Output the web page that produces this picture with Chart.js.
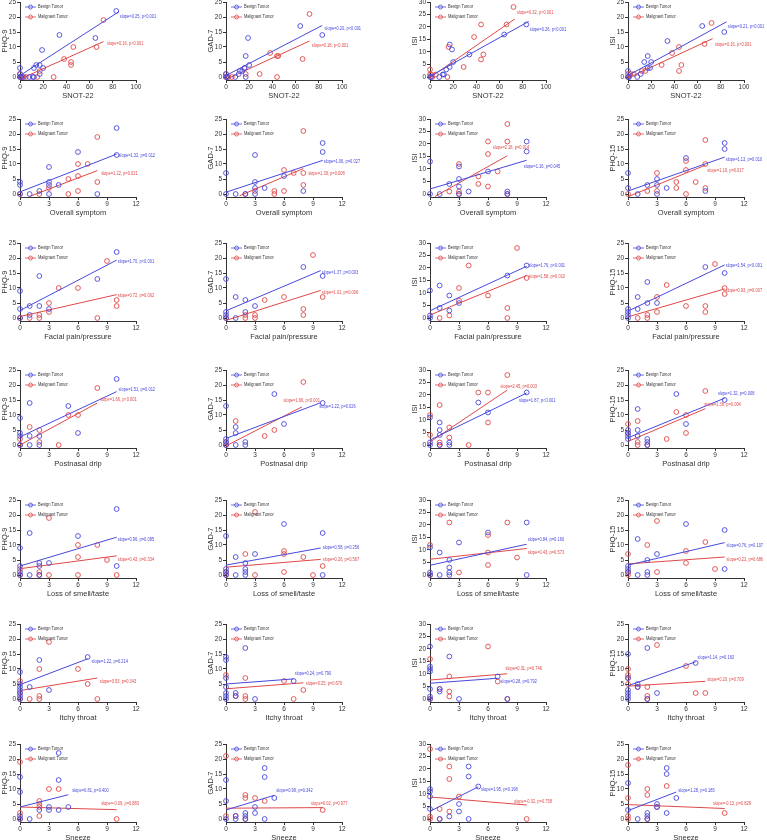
<!DOCTYPE html>
<html>
<head>
<meta charset="utf-8">
<script src="https://cdn.jsdelivr.net/npm/chart.js@4.4.1/dist/chart.umd.min.js"></script>
<style>
  html, body { margin: 0; padding: 0; background: #fff; overflow: hidden; }
  #wrap { position: relative; width: 767px; height: 840px; }
  #wrap canvas { position: absolute; }
</style>
</head>
<body>
<div id="wrap"></div>
<script>
// ---- data ----
const seriesNames = ['Benign Tumor', 'Malignant Tumor'];
const xTitles = ['SNOT-22', 'Overall symptom', 'Facial pain/pressure', 'Postnasal drip', 'Loss of smell/taste', 'Itchy throat', 'Sneeze'];
const yTitles = [
  ['PHQ-9', 'GAD-7', 'ISI', 'ISI'],
  ['PHQ-9', 'GAD-7', 'ISI', 'PHQ-15'],
  ['PHQ-9', 'GAD-7', 'ISI', 'PHQ-15'],
  ['PHQ-9', 'GAD-7', 'ISI', 'PHQ-15'],
  ['PHQ-9', 'GAD-7', 'ISI', 'PHQ-15'],
  ['PHQ-9', 'GAD-7', 'ISI', 'PHQ-15'],
  ['PHQ-9', 'GAD-7', 'ISI', 'PHQ-15']
];
const yTicks25 = [0, 5, 10, 15, 20, 25];
const yTicks30 = [0, 5, 10, 15, 20, 25, 30];
const xTicksSnot = [0, 20, 40, 60, 80, 100];
const xTicksSymptom = [0, 3, 6, 9, 12];

// points per row: one list per column (PHQ-9, GAD-7, ISI, PHQ-15)
const snotB = [
  [[83,22],[65,13],[34,14],[19,9],[20,3],[14,4],[17,4],[17,1],[12,3],[0,3],[0,0],[1,0],[3,0],[8,0],[11,0],[12,0],[0,1]],
  [[83,14],[64,17],[19,13],[17,7],[20,4],[16,3],[14,2],[12,2],[11,1],[17,0],[8,0],[0,0],[0,1],[1,0]],
  [[83,21],[64,17],[17,13],[19,11],[20,6],[34,9],[17,4],[14,3],[11,1],[12,1],[8,0],[0,0],[1,0]],
  [[83,15],[64,17],[34,12],[17,7],[14,5],[20,5],[19,3],[17,3],[11,1],[8,0],[0,2],[0,0],[1,0]]
];
const snotM = [
  [[72,19],[66,10],[46,10],[38,6],[44,5],[44,4],[17,2],[15,0],[29,0],[0,1],[2,0],[5,0],[1,0],[0,0]],
  [[72,21],[66,6],[38,8],[44,7],[45,7],[44,0],[29,1],[17,1],[16,3],[0,1],[0,0],[2,0],[5,0]],
  [[72,28],[66,21],[44,21],[38,16],[16,12],[46,9],[44,7],[29,4],[15,0],[0,3],[0,1],[1,1],[5,1],[2,0]],
  [[72,18],[66,11],[44,10],[38,8],[46,4],[44,2],[29,4],[15,2],[12,2],[0,1],[5,1],[2,1],[0,0]]
];
const overallB = [
  [[10,22],[10,13],[6,14],[3,9],[3,4],[3,3],[4,3],[0,4],[0,3],[2,1],[1,0],[3,0],[8,0],[0,0]],
  [[10,17],[10,14],[3,13],[0,7],[3,4],[3,2],[4,2],[6,6],[8,1],[0,0],[1,0],[2,0],[3,0]],
  [[10,21],[10,17],[0,13],[3,11],[3,6],[3,3],[2,4],[6,9],[4,1],[8,1],[8,0],[1,0],[3,0],[0,0]],
  [[10,17],[10,15],[6,12],[0,7],[3,5],[3,3],[2,3],[4,2],[0,2],[8,1],[1,0],[3,0]]
];
const overallM = [
  [[8,19],[6,10],[7,10],[6,6],[5,5],[8,4],[3,2],[2,0],[5,0],[6,1],[0,0]],
  [[8,21],[6,8],[7,7],[8,7],[8,3],[6,1],[5,1],[5,0],[3,1],[2,0]],
  [[8,28],[6,21],[8,21],[6,16],[3,12],[7,9],[5,7],[5,4],[6,3],[3,1],[2,1],[8,0],[3,0]],
  [[8,18],[6,11],[8,10],[6,8],[3,7],[5,4],[7,4],[5,2],[8,2],[2,1],[3,1],[6,0],[0,0]]
];
const facialB = [
  [[10,22],[2,14],[8,13],[0,9],[0,3],[1,4],[2,4],[3,3],[1,1],[0,0]],
  [[10,14],[8,17],[0,13],[1,7],[2,6],[3,4],[2,2],[0,2],[0,1],[0,0],[1,0]],
  [[10,21],[8,17],[1,13],[0,11],[2,9],[3,6],[1,4],[2,3],[0,1],[0,0]],
  [[10,15],[8,17],[2,12],[1,7],[3,5],[2,5],[1,3],[0,3],[0,2],[0,1],[0,0]]
];
const facialM = [
  [[9,19],[4,10],[6,10],[10,6],[10,4],[3,5],[3,2],[2,1],[2,0],[1,0],[8,0],[0,0]],
  [[9,21],[10,7],[6,7],[4,6],[8,3],[8,1],[3,1],[3,0],[2,1],[2,0],[0,0]],
  [[9,28],[4,21],[3,12],[10,16],[6,9],[3,7],[8,4],[2,1],[1,0],[8,0]],
  [[9,18],[10,10],[10,8],[4,11],[3,7],[6,4],[8,4],[8,2],[3,2],[2,1],[2,0],[1,0]]
];
const postnasalB = [
  [[10,22],[1,14],[5,13],[0,9],[0,4],[0,3],[1,3],[2,3],[6,4],[1,0],[2,0],[0,0]],
  [[10,14],[5,17],[0,13],[1,6],[1,4],[6,7],[2,1],[2,0],[1,0],[0,2],[0,1],[0,0]],
  [[10,21],[5,17],[6,13],[1,9],[0,11],[1,6],[1,4],[2,1],[2,0],[0,1],[0,0],[1,0]],
  [[10,15],[5,17],[1,12],[6,7],[1,5],[1,3],[0,5],[0,4],[0,3],[0,2],[2,2],[2,1],[2,0]]
];
const postnasalM = [
  [[8,19],[5,10],[6,10],[1,6],[2,5],[0,2],[2,1],[4,0],[0,0]],
  [[8,21],[1,8],[5,5],[4,3],[0,1],[0,0]],
  [[8,28],[5,21],[6,21],[1,16],[0,12],[6,9],[2,7],[2,3],[0,4],[1,1],[1,0],[4,0]],
  [[8,18],[5,11],[6,10],[1,8],[0,7],[6,4],[4,2],[1,1],[1,0],[2,0],[0,4]]
];
const smellB = [
  [[10,22],[1,14],[6,13],[0,9],[2,4],[2,3],[3,4],[0,3],[0,1],[10,3],[1,0],[2,0],[0,0]],
  [[10,14],[6,17],[0,13],[1,6],[3,7],[2,4],[2,2],[2,1],[2,0],[0,2],[0,1],[0,0],[1,0],[10,0]],
  [[10,21],[6,17],[3,13],[0,11],[1,9],[2,6],[2,3],[2,1],[2,0],[0,1],[0,0],[1,0],[10,0]],
  [[10,15],[6,17],[1,12],[3,7],[2,5],[10,2],[0,3],[0,2],[0,1],[2,1],[2,0],[1,0]]
];
const smellM = [
  [[3,19],[6,10],[8,10],[6,6],[9,5],[0,2],[2,1],[2,0],[3,0],[6,0],[10,0],[0,0]],
  [[3,21],[6,8],[6,7],[2,7],[8,6],[10,3],[6,1],[3,0],[9,0],[0,1],[0,0]],
  [[2,21],[8,21],[6,16],[0,12],[6,9],[9,7],[6,4],[3,1],[0,0]],
  [[3,18],[2,10],[8,11],[6,8],[0,7],[6,4],[9,2],[3,1],[0,1],[0,0]]
];
const itchyB = [
  [[7,14],[2,13],[0,9],[1,4],[3,3],[0,4],[0,3],[0,2],[0,1],[0,0],[0,5]],
  [[0,14],[0,13],[2,17],[0,7],[7,6],[0,4],[1,2],[1,1],[0,2],[0,1],[0,0],[3,0]],
  [[0,21],[2,17],[0,13],[0,12],[0,11],[7,9],[1,4],[1,3],[0,4],[0,1],[0,0],[3,0],[8,0]],
  [[2,17],[0,15],[7,12],[0,7],[1,5],[1,4],[0,3],[0,2],[0,1],[0,0],[2,0],[3,2]]
];
const itchyM = [
  [[3,19],[2,10],[6,10],[0,6],[7,5],[2,1],[2,0],[1,0],[8,0],[0,0],[0,2]],
  [[0,8],[2,7],[6,6],[8,3],[2,1],[2,0],[7,0],[1,1]],
  [[6,21],[0,16],[2,9],[7,7],[1,4],[2,3],[2,1],[8,0],[0,0]],
  [[3,18],[0,10],[0,8],[0,7],[6,11],[0,5],[1,4],[2,4],[7,2],[8,2],[2,1],[2,0]]
];
const sneezeB = [
  [[4,22],[0,14],[4,13],[0,9],[3,4],[3,3],[5,4],[4,3],[2,3],[0,1],[0,0],[1,0]],
  [[4,17],[4,14],[0,13],[0,6],[5,7],[3,4],[2,2],[2,1],[2,0],[3,2],[1,1],[1,0],[4,0],[0,0]],
  [[4,21],[4,17],[5,13],[0,12],[0,11],[0,9],[3,6],[0,4],[3,3],[2,1],[1,0],[4,0]],
  [[4,17],[4,15],[0,12],[5,7],[4,2],[3,5],[3,4],[2,2],[2,1],[2,0],[1,0],[0,3]]
];
const sneezeM = [
  [[0,19],[3,10],[4,10],[2,6],[2,5],[2,4],[2,1],[0,2],[10,0],[0,0]],
  [[0,21],[2,8],[2,7],[3,7],[4,6],[10,3],[0,1],[1,1],[2,0]],
  [[0,28],[2,21],[2,16],[3,9],[1,4],[2,3],[0,1],[0,0],[1,0],[10,0]],
  [[0,18],[4,11],[2,10],[2,8],[0,7],[3,4],[10,2],[0,1],[0,0],[2,0]]
];

// fitted lines, per panel: [benign [x0,y0,x1,y1], malignant [x0,y0,x1,y1]]
const fitLines = [
  [[0,0.5,85,21.7],[0,-0.7,72,11.8]], [[0,0.5,83,17.2],[0,-0.8,72,12]], [[0,0.3,85,22.2],[0,-0.2,73,23.2]], [[0,0.5,85,18.4],[0,-0.3,73,12.8]],
  [[0,0.7,10,13.3],[1,-0.8,8,7.8]], [[0,0.6,10,11.2],[1.4,-0.6,8,8.5]], [[0,2,10,13.5],[0.5,-1,8,15.3]], [[0,1,10,12.3],[0,-0.9,8,9.6]],
  [[0,2.5,10,19.3],[0,0.5,10,7.8]], [[0,2.4,9.8,15.8],[0,-0.8,9.8,9.2]], [[0,2.9,10,20.7],[0,1.2,10,17]], [[0,2.3,10,17.7],[0,0.4,10,9.7]],
  [[0,2.7,10,17.8],[0,0,8,14]], [[0,2.2,9.8,14.1],[0,-0.3,7.85,12.7]], [[0,2,10,20.8],[0,1.2,8,22]], [[0,2.4,10,15.6],[0,1.2,8,12.1]],
  [[0,3,10,12.6],[0,2.1,10,6.4]], [[0,3.3,9.8,9],[0,2.6,9.8,5.2]], [[0,3.9,10,12.3],[0,6.3,10,10.6]], [[0,3.3,10,10.8],[0,3.7,10,6]],
  [[0,4.8,7,13.4],[0,2.8,8,7]], [[0,5,7,6.7],[0,3.4,8,5.4]], [[0,6.3,7,8.3],[0,7.6,8,10.1]], [[0,4.4,7,12.4],[0,4.3,8,5.9]],
  [[0,4,5,8.1],[0,4,10,3.1]], [[0,3,5,7.9],[0,3.6,10,3.8]], [[0,3.1,5,12.9],[0,8.8,10,5.6]], [[0,2.8,5,9],[0,4.8,10,3.5]]
];
const slopeText = [
  ['slope=0.25, p<0.001', 'slope=0.16, p<0.001'], ['slope=0.20, p<0.001', 'slope=0.18, p<0.001'], ['slope=0.26, p<0.001', 'slope=0.32, p<0.001'], ['slope=0.21, p<0.001', 'slope=0.16, p<0.001'],
  ['slope=1.32, p=0.012', 'slope=1.22, p=0.021'], ['slope=1.06, p=0.027', 'slope=1.39, p=0.008'], ['slope=1.16, p=0.045', 'slope=2.18, p=0.014'], ['slope=1.13, p=0.010', 'slope=1.19, p=0.017'],
  ['slope=1.70, p<0.001', 'slope=0.72, p=0.062'], ['slope=1.37, p=0.003', 'slope=1.01, p=0.006'], ['slope=1.76, p<0.001', 'slope=1.58, p=0.010'], ['slope=1.54, p<0.001', 'slope=0.93, p=0.007'],
  ['slope=1.51, p=0.012', 'slope=1.66, p<0.001'], ['slope=1.22, p=0.026', 'slope=1.66, p<0.001'], ['slope=1.87, p<0.001', 'slope=2.45, p=0.003'], ['slope=1.32, p=0.008', 'slope=1.36, p=0.004'],
  ['slope=0.96, p=0.085', 'slope=0.43, p=0.334'], ['slope=0.58, p=0.256', 'slope=0.26, p=0.567'], ['slope=0.84, p=0.160', 'slope=0.43, p=0.573'], ['slope=0.76, p=0.107', 'slope=0.23, p=0.686'],
  ['slope=1.22, p=0.214', 'slope=0.53, p=0.343'], ['slope=0.24, p=0.790', 'slope=0.25, p=0.670'], ['slope=0.28, p=0.792', 'slope=0.31, p=0.746'], ['slope=1.14, p=0.163', 'slope=0.20, p=0.709'],
  ['slope=0.81, p=0.400', 'slope=-0.09, p=0.883'], ['slope=0.99, p=0.342', 'slope=0.02, p=0.977'], ['slope=1.95, p=0.198', 'slope=-0.32, p=0.758'], ['slope=1.28, p=0.185', 'slope=-0.13, p=0.829']
];
// where each slope note sits, in data units (left end, middle of text)
const slopeAt = [
  [[86,20],[75,11]], [[85,16],[74,10.4]], [[86,18.8],[75,25.6]], [[86,16.9],[75,10.9]],
  [[10.2,12.9],[8.4,6.7]], [[10.1,10.8],[8.5,6.9]], [[9.7,10.8],[6.5,18.4]], [[10.1,11.5],[8.2,7.8]],
  [[10.1,18.8],[10.1,7.4]], [[9.9,15.2],[9.9,8.3]], [[10.2,20.8],[10.2,16.7]], [[10.1,17.3],[10.1,9.2]],
  [[10.2,18.5],[8.3,15]], [[9.65,12.8],[5.95,14.8]], [[9.2,17.9],[7.3,23.3]], [[9.3,17],[7.9,13.3]],
  [[10.1,11.7],[10.1,5.1]], [[10,9],[10,5.1]], [[10.1,14.1],[10.1,8.8]], [[10.2,9.9],[10.2,5.1]],
  [[7.4,12.5],[8.25,5.7]], [[7.1,8.3],[8.25,5]], [[7.3,6.8],[7.8,12.1]], [[7.2,13.7],[8.2,6.6]],
  [[5.4,9.6],[8.4,5.1]], [[5.2,9.6],[8.8,5.1]], [[5.3,11.6],[8.7,6.9]], [[5.2,9.6],[8.8,5.1]]
];

// ---- layout / style ----
const rowPoints = [[snotB, snotM], [overallB, overallM], [facialB, facialM], [postnasalB, postnasalM], [smellB, smellM], [itchyB, itchyM], [sneezeB, sneezeM]];
const colAxisX = [20, 226, 430, 628];
const rowZeroY = [77, 194, 318, 445, 575, 699, 819];
const colors = ['#4848dc', '#e04848'];
const FONT = '"Liberation Sans", Arial, sans-serif';
const AXIS_W = 20, X_AXIS_H = 20, PAD_TOP = 6, PLOT_W = 116, PLOT_H = 75;
const NARROW = 0.8; // small annotation text is condensed in the figure

function narrowText(ctx, t, x, y) {
  ctx.save();
  ctx.translate(x, y);
  ctx.scale(NARROW, 1);
  ctx.fillText(t, 0, 0);
  ctx.restore();
}

const annotate = {
  id: 'annotate',
  afterDatasetsDraw(chart, args, opts) {
    const { ctx, chartArea: a, scales: { x, y } } = chart;
    ctx.save();
    ctx.font = '5px ' + FONT;
    ctx.textBaseline = 'middle';
    seriesNames.forEach((name, i) => {
      const ly = a.top + 5 + i * 10;
      ctx.strokeStyle = colors[i];
      ctx.lineWidth = 0.8;
      ctx.beginPath(); ctx.moveTo(a.left + 5, ly); ctx.lineTo(a.left + 16, ly); ctx.stroke();
      ctx.beginPath(); ctx.arc(a.left + 10.5, ly, 2, 0, Math.PI * 2); ctx.stroke();
      ctx.fillStyle = '#333';
      narrowText(ctx, name, a.left + 18, ly);
    });
    opts.texts.forEach((t, i) => {
      ctx.fillStyle = colors[i];
      narrowText(ctx, t, x.getPixelForValue(opts.at[i][0]), y.getPixelForValue(opts.at[i][1]));
    });
    ctx.restore();
  }
};

const wrap = document.getElementById('wrap');

rowPoints.forEach(([groupB, groupM], r) => {
  const xTicks = r === 0 ? xTicksSnot : xTicksSymptom;
  for (let c = 0; c < 4; c++) {
    const idx = r * 4 + c;
    const yTicks = c === 2 ? yTicks30 : yTicks25;
    const yMax = yTicks[yTicks.length - 1];
    const left = colAxisX[c] - AXIS_W;
    const top = rowZeroY[r] - PLOT_H - PAD_TOP;
    const width = c < 3 ? 190 : 767 - left;
    const height = PAD_TOP + PLOT_H * 26 / 25 + X_AXIS_H;

    const cv = document.createElement('canvas');
    cv.width = width; cv.height = height;
    cv.style.left = left + 'px'; cv.style.top = top + 'px';
    wrap.appendChild(cv);

    const pts = [groupB[c], groupM[c]];
    const datasets = [];
    [0, 1].forEach(i => {
      const f = fitLines[idx][i];
      datasets.push({
        data: [{ x: f[0], y: f[1] }, { x: f[2], y: f[3] }],
        showLine: true, borderColor: colors[i], borderWidth: 1, pointRadius: 0, clip: false
      });
      datasets.push({
        data: pts[i].map(([x, y]) => ({ x, y })),
        showLine: false, pointStyle: 'circle', pointRadius: 2.4, borderWidth: 0.9,
        borderColor: colors[i], backgroundColor: 'rgba(0,0,0,0)', clip: false
      });
    });

    const axisCommon = {
      type: 'linear',
      grid: { display: true, drawOnChartArea: false, drawTicks: true, tickLength: 3, color: '#333', lineWidth: 1 },
      border: { display: true, color: '#333', width: 1 },
      ticks: { color: '#333', font: { size: 6.5, family: FONT }, maxRotation: 0, autoSkip: false }
    };

    new Chart(cv, {
      type: 'scatter',
      data: { datasets },
      options: {
        responsive: false,
        animation: false,
        devicePixelRatio: 1,
        layout: { padding: { top: PAD_TOP, left: 0, bottom: 0, right: width - AXIS_W - PLOT_W } },
        plugins: {
          legend: { display: false },
          tooltip: { enabled: false },
          annotate: { texts: slopeText[idx], at: slopeAt[idx] }
        },
        scales: {
          x: {
            ...axisCommon,
            min: 0, max: xTicks[xTicks.length - 1],
            ticks: { ...axisCommon.ticks, padding: 0 },
            afterBuildTicks: s => { s.ticks = xTicks.map(v => ({ value: v })); },
            afterFit: s => { s.height = X_AXIS_H; },
            title: { display: true, text: xTitles[r], color: '#333', font: { size: 7.5, family: FONT }, padding: { top: 0, bottom: 0 } }
          },
          y: {
            ...axisCommon,
            min: -yMax / 25, max: yMax,
            ticks: { ...axisCommon.ticks, padding: 1 },
            afterBuildTicks: s => { s.ticks = yTicks.map(v => ({ value: v })); },
            afterFit: s => { s.width = AXIS_W; },
            title: { display: true, text: yTitles[r][c], color: '#333', font: { size: 7.5, family: FONT }, padding: { top: 0, bottom: 0 } }
          }
        }
      },
      plugins: [annotate]
    });
  }
});
</script>
</body>
</html>
